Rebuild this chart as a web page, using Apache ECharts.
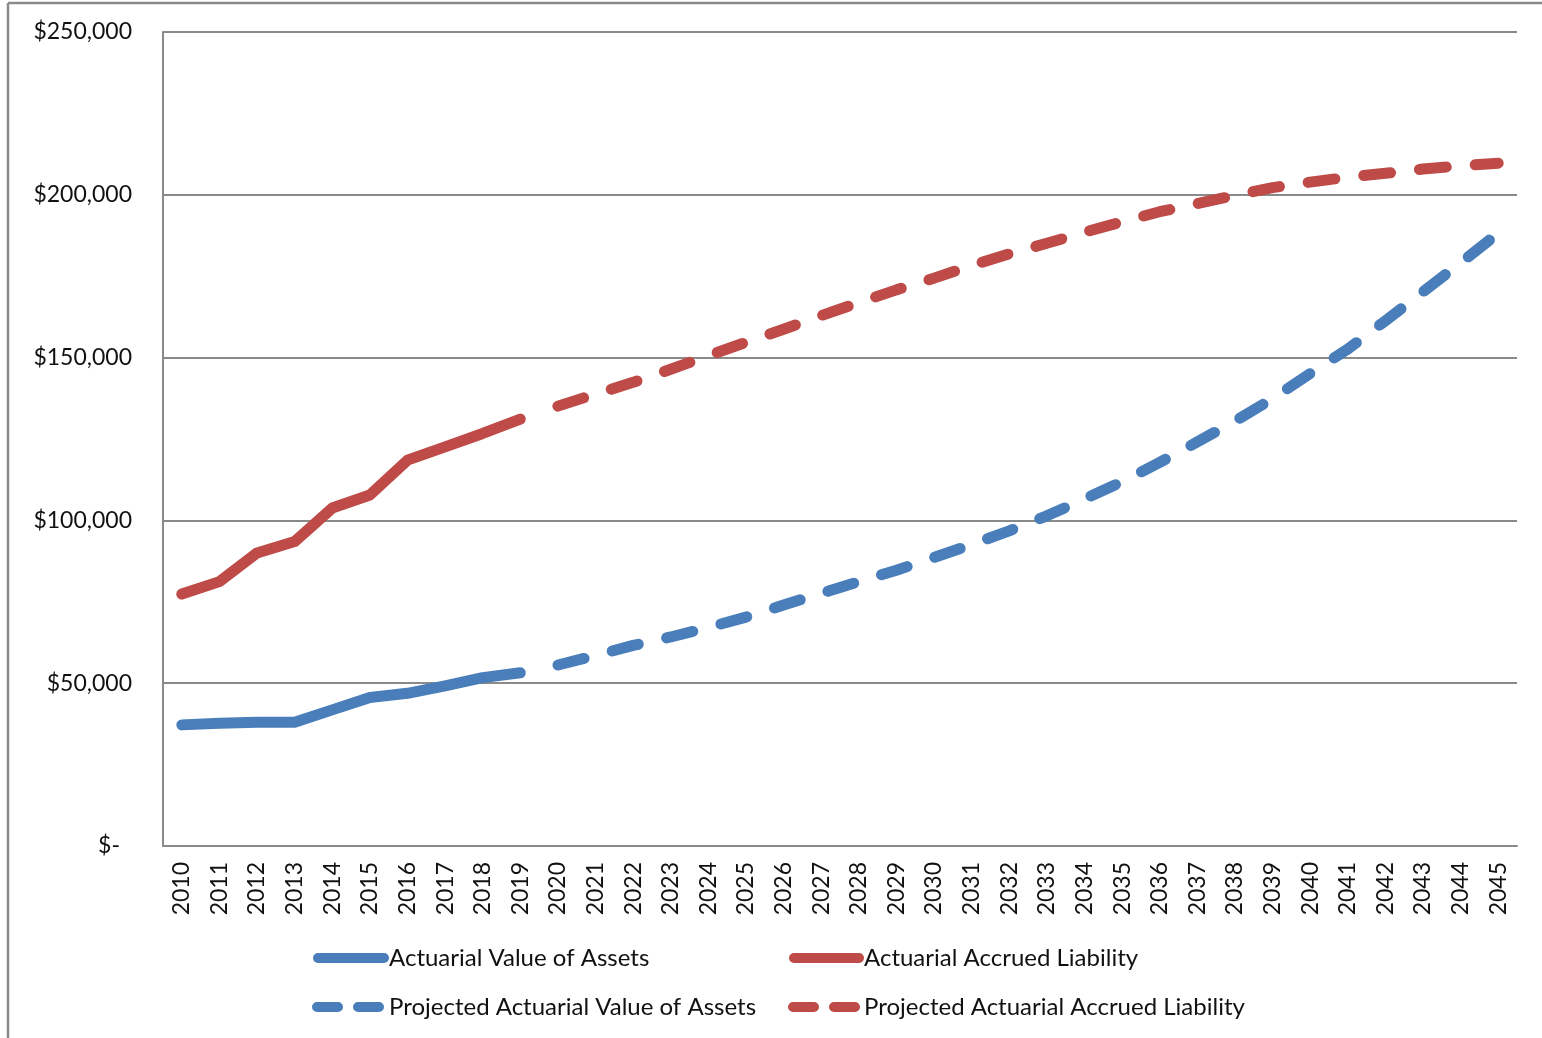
<!DOCTYPE html>
<html>
<head>
<meta charset="utf-8">
<script src="https://cdn.jsdelivr.net/npm/echarts@6/dist/echarts.min.js"></script>
<style>
  html, body { margin: 0; padding: 0; background: #fff; }
  #chart { width: 1542px; height: 1038px; }
</style>
</head>
<body>
<div id="chart"></div>
<script>
// Fiscal years on the category axis
const years = [];
for (let y = 2010; y <= 2045; y++) years.push(String(y));

// Historical valuations, 2010-2019
const assetsActual    = [37200, 37700, 38000, 38000, 41800, 45600, 46900, 49200, 51700, 53200];
const liabilityActual = [77400, 81200, 90000, 93500, 103800, 107800, 118500, 122600, 126700, 131100];

// Projections, 2020-2045
const assetsProjected = [55600, 58500, 61600, 64200, 67100, 70300, 74000, 77600, 81200, 84700,
                         88600, 92600, 96800, 101400, 106600, 111900, 117800, 124100, 130500, 137400,
                         145100, 152600, 161300, 170200, 179100, 188200];
const liabilityProjected = [135100, 138800, 142400, 146400, 150600, 154700, 158700, 162900, 166900, 170800,
                            174400, 178300, 181900, 185100, 188500, 191700, 194800, 197300, 199800, 202200,
                            203900, 205400, 206600, 207900, 208900, 209700];

// Y tick values
const yTicks = [0, 50000, 100000, 150000, 200000, 250000];

const names = {
  av: 'Actuarial Value of Assets',
  al: 'Actuarial Accrued Liability',
  pav: 'Projected Actuarial Value of Assets',
  pal: 'Projected Actuarial Accrued Liability'
};

const BLUE = '#4a7ebb';
const RED = '#be4b48';
const GRID = '#8a8a8a';
const FONT = 'Lato';
const FS = 23;
const LEGEND_FS = 24;

const pad = (n) => new Array(n).fill(null);
const histSeries = (arr) => arr.concat(pad(years.length - arr.length));
const projSeries = (arr) => pad(years.length - arr.length).concat(arr);

function lineSeries(name, data, color, dashed) {
  return {
    name, type: 'line', data,
    symbol: 'none',
    connectNulls: false,
    animation: false,
    lineStyle: { color, width: 11, cap: 'round', join: 'round', type: dashed ? [27, 29] : 'solid' },
    itemStyle: { color }
  };
}

function legendItem(name, left, top, width, dashed) {
  return {
    data: [name], left, top,
    padding: 0, itemGap: 0,
    itemWidth: width, itemHeight: 10,
    selectedMode: false,
    itemStyle: { opacity: 0 },
    lineStyle: { width: 10, cap: 'round', type: dashed ? [21, 20] : 'solid' },
    textStyle: { fontFamily: FONT, fontSize: LEGEND_FS, color: '#111', lineHeight: 28 }
  };
}

const chart = echarts.init(document.getElementById('chart'), null, { renderer: 'canvas' });

chart.setOption({
  backgroundColor: '#fff',
  animation: false,
  grid: { left: 163, right: 25, top: 32, bottom: 192, containLabel: false },
  xAxis: {
    type: 'category',
    data: years,
    boundaryGap: true,
    axisLine: { show: true, lineStyle: { color: GRID, width: 2 } },
    axisTick: { show: false },
    splitLine: { show: false },
    axisLabel: {
      interval: 0, rotate: 90, margin: 16,
      fontFamily: FONT, fontSize: FS, color: '#111'
    }
  },
  yAxis: {
    type: 'value',
    min: yTicks[0], max: yTicks[yTicks.length - 1], interval: yTicks[1] - yTicks[0],
    axisLine: { show: true, lineStyle: { color: GRID, width: 2 } },
    axisTick: { show: false },
    splitLine: { show: true, lineStyle: { color: GRID, width: 2 } },
    axisLabel: {
      margin: 31,
      fontFamily: FONT, fontSize: FS, color: '#111',
      formatter: (v) => v === 0 ? '{z|$-}' : '$' + v.toLocaleString('en-US'),
      rich: { z: { fontFamily: FONT, fontSize: FS, color: '#111', padding: [0, 12, 0, 0] } }
    }
  },
  legend: [
    legendItem(names.av, 313, 944, 66, false),
    legendItem(names.al, 789, 944, 65, false),
    legendItem(names.pav, 312, 993, 67, true),
    legendItem(names.pal, 788, 993, 66, true)
  ],
  graphic: [
    { type: 'line', shape: { x1: 8, y1: 3, x2: 1542, y2: 3 }, style: { stroke: GRID, lineWidth: 2.5 } },
    { type: 'line', shape: { x1: 8, y1: 3, x2: 8, y2: 1038 }, style: { stroke: GRID, lineWidth: 2.5 } }
  ],
  series: [
    lineSeries(names.av, histSeries(assetsActual), BLUE, false),
    lineSeries(names.al, histSeries(liabilityActual), RED, false),
    lineSeries(names.pav, projSeries(assetsProjected), BLUE, true),
    lineSeries(names.pal, projSeries(liabilityProjected), RED, true)
  ]
});
</script>
</body>
</html>
